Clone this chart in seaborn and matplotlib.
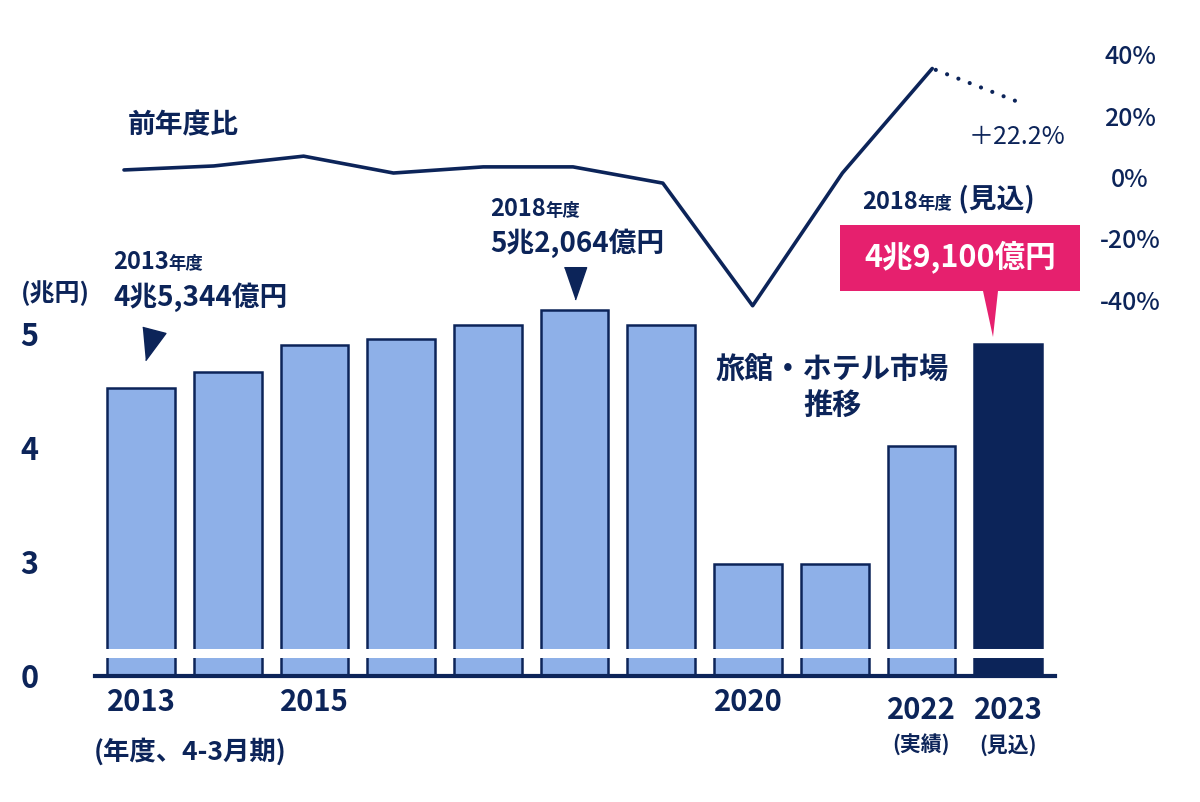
import numpy as np
import pandas as pd
import seaborn as sns
import matplotlib.pyplot as plt
from matplotlib.patches import Polygon

# data
years = ["2013", "2014", "2015", "2016", "2017", "2018", "2019", "2020", "2021", "2022", "2023"]
market = [4.53, 4.67, 4.90, 4.96, 5.08, 5.21, 5.08, 2.98, 2.98, 4.02, 4.91]   # 兆円
yoy = [2.3, 3.6, 6.8, 1.3, 3.3, 3.3, -2.0, -42.0, 1.3, 35.4, 24.0]            # %
year_labels = {0: "2013", 2: "2015", 7: "2020"}
sub_labels = {9: ("2022", "(実績)"), 10: ("2023", "(見込)")}
left_ticks = [2, 3, 4, 5]
left_labels = ["0", "3", "4", "5"]
right_ticks = [-40, -20, 0, 20, 40]
right_labels = ["-40%", "-20%", "0%", "20%", "40%"]

navy = "#0c2459"
light = "#8eb0e8"
pink = "#e6206e"

sns.set_theme(style="white")
plt.rcParams["font.family"] = ["Noto Sans CJK JP", "DejaVu Sans"]

W, H = 1200, 802
def fx(x):
    return x / W
def fy(y):
    return 1 - y / H

fig = plt.figure(figsize=(12, 8.02), dpi=100)
rect = [fx(95), fy(676), fx(1055) - fx(95), (676 - 40) / H]
ax = fig.add_axes(rect)

df = pd.DataFrame({"year": years, "value": market})
colors = [light] * (len(years) - 1) + [navy]
sns.barplot(data=df, x="year", y="value", hue="year", palette=colors, legend=False,
            saturation=1, width=0.78, edgecolor=navy, linewidth=1.8, ax=ax, zorder=2)

ax.set_ylim(2, 2 + 636 / 114)
ax.set_xlim(-0.53, 10.54)
ax.set_xlabel("")
ax.set_ylabel("")
ax.set_xticks([])
ax.set_yticks(left_ticks)
ax.set_yticklabels(left_labels, fontsize=22, fontweight="bold", color=navy, ha="center")
ax.tick_params(axis="y", length=0, pad=47)
for s in ["top", "right", "left"]:
    ax.spines[s].set_visible(False)
ax.spines["bottom"].set_color(navy)
ax.spines["bottom"].set_linewidth(3)
ax.spines["bottom"].set_zorder(5)
# axis break
ax.axhline(2.2, color="white", lw=6.5, zorder=4)

# year-over-year line (own overlay axes, right-hand scale)
ax2 = fig.add_axes(rect)
ax2.patch.set_visible(False)
ax2.set_ylim((177 - 676) / 61.3 * 20, (177 - 40) / 61.3 * 20)
idx = np.arange(len(years))
sns.lineplot(x=idx[:10], y=yoy[:10], ax=ax2, color=navy, lw=2.6)
sns.lineplot(x=idx[9:], y=yoy[9:], ax=ax2, color=navy, lw=3,
             linestyle=(2, (0.01, 2.9)), dash_capstyle="round")
ax2.set_xlim(-0.323, 10.367)
ax2.set_xticks([])
ax2.yaxis.tick_right()
ax2.set_yticks(right_ticks)
ax2.set_yticklabels(right_labels, fontsize=18, fontweight="medium", color=navy, ha="center")
ax2.tick_params(axis="y", length=0, pad=54)
for s in ax2.spines.values():
    s.set_visible(False)

# x labels
xt = ax.get_xaxis_transform()
for i, lab in year_labels.items():
    ax.text(i, -0.041, lab, transform=xt, ha="center", va="center",
            fontsize=21, fontweight="bold", color=navy)
for i, (lab, sub) in sub_labels.items():
    ax.text(i, -0.053, lab, transform=xt, ha="center", va="center",
            fontsize=21, fontweight="bold", color=navy)
    ax.text(i, -0.108, sub, transform=xt, ha="center", va="center",
            fontsize=15, fontweight="bold", color=navy)
fig.text(fx(190), fy(752), "(年度、4-3月期)", ha="center", va="center",
         fontsize=19, fontweight="bold", color=navy)
fig.text(fx(55), fy(293), "(兆円)", ha="center", va="center",
         fontsize=18, fontweight="bold", color=navy)

# annotations
fig.text(fx(128), fy(125), "前年度比", ha="left", va="center",
         fontsize=20, fontweight="bold", color=navy)

def year_note(x, y, head, tail=None):
    t = fig.text(fx(x), fy(y), head, ha="left", va="bottom",
                 fontsize=17, fontweight="bold", color=navy)
    a = ax.annotate("年度", xy=(1, 0.05), xycoords=t, ha="left", va="bottom",
                    fontsize=12.5, fontweight="bold", color=navy)
    if tail:
        ax.annotate(tail, xy=(1, -0.05), xycoords=a, ha="left", va="bottom",
                    fontsize=20, fontweight="bold", color=navy)

year_note(113, 274, "2013")
fig.text(fx(113), fy(297), "4兆5,344億円", ha="left", va="center",
         fontsize=20, fontweight="bold", color=navy)
year_note(490, 221, "2018")
fig.text(fx(490), fy(243), "5兆2,064億円", ha="left", va="center",
         fontsize=20, fontweight="bold", color=navy)
year_note(862, 214, "2018", " (見込)")

tri1 = [(-8.7, 13), (14.3, 7), (-5.7, -20)]
ax.plot([0.12], [4.95], marker=tri1, markersize=29, color=navy, lw=0, zorder=6)
tri2 = [(-11, 10.7), (11, 10.7), (0, -21.3)]
ax.plot([5.0], [5.494], marker=tri2, markersize=31, color=navy, lw=0, zorder=6)

# pink callout
box = [(840, 225), (1080, 225), (1080, 291), (998, 291), (993, 337), (983, 291), (840, 291)]
fig.patches.append(Polygon([(fx(x), fy(y)) for x, y in box], closed=True,
                           transform=fig.transFigure, facecolor=pink, edgecolor="none"))
fig.text(fx(960), fy(258), "4兆9,100億円", ha="center", va="center",
         fontsize=22, fontweight="bold", color="white")

fig.text(fx(1017), fy(137), "＋22.2%", ha="center", va="center",
         fontsize=18, color=navy)
fig.text(fx(832), fy(370), "旅館・ホテル市場", ha="center", va="center",
         fontsize=21, fontweight="bold", color=navy)
fig.text(fx(832), fy(405), "推移", ha="center", va="center",
         fontsize=21, fontweight="bold", color=navy)

fig.savefig("out.png", dpi=100)
